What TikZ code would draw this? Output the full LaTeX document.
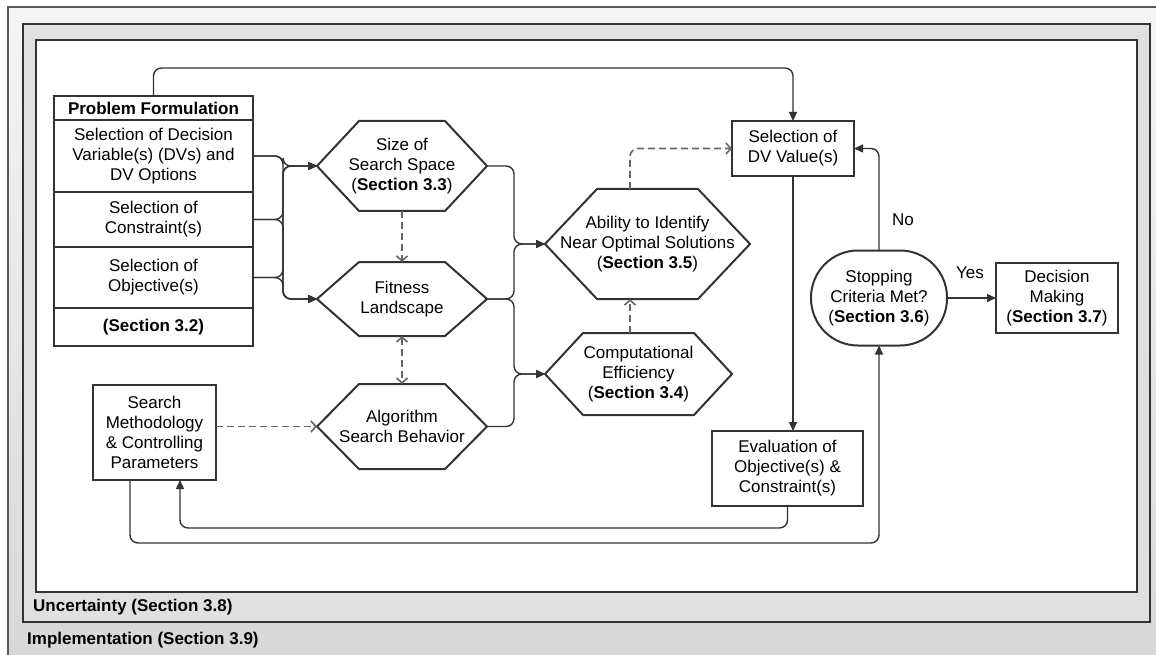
\documentclass[tikz,border=0pt]{standalone}
\usepackage{fontspec}
\setmainfont{Liberation Sans}
\usetikzlibrary{positioning, arrows.meta, calc}
\tikzset{
  box/.style = {rectangle, draw=black!80, line width=2pt, fill=white, align=center, outer sep=0pt, inner sep=2pt},
  cell/.style = {box, minimum width=199pt},
  hexa/.style = {rectangle, align=center, outer sep=0pt, inner sep=0pt},
  hexline/.style = {draw=black!80, line width=2pt, line join=miter},
  link/.style = {draw=black!80, line width=1.4pt, rounded corners=8pt, -{Triangle[length=9pt,width=8pt]}},
  dashlink/.style = {draw=black!60, line width=1.6pt, dash pattern=on 7pt off 4pt, rounded corners=8pt, -{Straight Barb[length=5pt,width=11pt]}},
  tag/.style = {font=\fontsize{17}{20}\selectfont\bfseries, anchor=west, inner sep=0pt},
}
\newcommand{\drawhex}[2]{%
  \draw[hexline] (#1.west) -- ([xshift=#2]#1.north west) -- ([xshift=-#2]#1.north east)
    -- (#1.east) -- ([xshift=-#2]#1.south east) -- ([xshift=#2]#1.south west) -- cycle;}

\begin{document}
\begin{tikzpicture}[x=1pt, y=-1pt, every node/.style={font=\fontsize{17}{20}\selectfont}]
    \useasboundingbox (0,0) rectangle (1156,655);

    % frames
    \draw[draw=black!65, line width=1.2pt, top color=black!4, bottom color=black!16] (8,7) rectangle (1180,690);
    \draw[draw=black!80, line width=2.5pt, fill=black!12] (23,24) rectangle (1150,622);
    \draw[draw=black!80, line width=2.5pt, fill=white] (36,40) rectangle (1137,592);
    \node[tag] (uncert) at (33,607) {Uncertainty (Section 3.8)};
    \node[tag] (implem) at (27,640) {Implementation (Section 3.9)};

    % problem formulation
    \node[cell, minimum height=24pt] (pfhead) at (153.5,108) {\textbf{Problem Formulation}};
    \node[cell, minimum height=72pt, below=0pt of pfhead] (pfdv) {Selection of Decision\\Variable(s) (DVs) and\\DV Options};
    \node[cell, minimum height=55pt, below=0pt of pfdv] (pfcon) {Selection of\\Constraint(s)};
    \node[cell, minimum height=61pt, below=0pt of pfcon] (pfobj) {Selection of\\Objective(s)};
    \node[cell, minimum height=38pt, below=0pt of pfobj] (pfsec) {\textbf{(Section 3.2)}};

    \node[box, minimum width=123pt, minimum height=95pt] (search) at (154.5,432.5) {Search\\Methodology\\\& Controlling\\Parameters};

    % hexagons
    \node[hexa, minimum width=170pt, minimum height=90pt] (size) at (402,166) {Size of\\Search Space\\(\textbf{Section 3.3})};
    \drawhex{size}{42pt}
    \node[hexa, minimum width=170pt, minimum height=74pt] (fit) at (402,299) {Fitness\\Landscape};
    \drawhex{fit}{42pt}
    \node[hexa, minimum width=170pt, minimum height=85pt] (algo) at (402,426.5) {Algorithm\\Search Behavior};
    \drawhex{algo}{42pt}
    \node[hexa, minimum width=205pt, minimum height=110pt] (ability) at (647.5,244) {Ability to Identify\\Near Optimal Solutions\\(\textbf{Section 3.5})};
    \drawhex{ability}{52pt}
    \node[hexa, minimum width=187pt, minimum height=82pt] (comp) at (638.5,374) {Computational\\Efficiency\\(\textbf{Section 3.4})};
    \drawhex{comp}{38pt}

    % right part
    \node[box, minimum width=122pt, minimum height=55pt] (seldv) at (793,148.5) {Selection of\\DV Value(s)};
    \node[box, minimum width=151pt, minimum height=75pt] (eval) at (787.5,468.5) {Evaluation of\\Objective(s) \&\\Constraint(s)};
    \node[box, rounded corners=47pt, minimum width=136pt, minimum height=95pt] (stop) at (879,298) {Stopping\\Criteria Met?\\(\textbf{Section 3.6})};
    \node[box, minimum width=122pt, minimum height=70pt] (decide) at (1057,298) {Decision\\Making\\(\textbf{Section 3.7})};
    \node (no) at (903,220) {No};
    \node (yes) at (970,273) {Yes};

    % connectors
    \draw[link] (pfdv.east) -- ++(30,0) |- (size.west);
    \draw[link] (pfdv.east) -- ++(30,0) |- (fit.west);
    \draw[link] (pfcon.east) -- ++(30,0) |- (size.west);
    \draw[link] (pfcon.east) -- ++(30,0) |- (fit.west);
    \draw[link] (pfobj.east) -- ++(30,0) |- (size.west);
    \draw[link] (pfobj.east) -- ++(30,0) |- (fit.west);

    \draw[link] (size.east) -- ++(27,0) |- (ability.west);
    \draw[link] (fit.east) -- ++(27,0) |- (ability.west);
    \draw[link] (fit.east) -- ++(27,0) |- (comp.west);
    \draw[link] (algo.east) -- ++(27,0) |- (comp.west);

    \draw[dashlink] (size.south) -- (fit.north);
    \draw[dashlink, {Straight Barb[length=5pt,width=11pt]}-{Straight Barb[length=5pt,width=11pt]}] (fit.south) -- (algo.north);
    \draw[dashlink] (search.east |- algo.west) -- (algo.west);
    \draw[dashlink] ([xshift=-8.5pt]comp.north) -- ([xshift=-8.5pt]comp.north |- ability.south);
    \draw[dashlink] ([xshift=-17.5pt]ability.north) |- (seldv.west);

    \draw[link] (pfhead.north) -- ++(0,-28) -| (seldv.north);
    \draw[link] (seldv.south) -- (seldv.south |- eval.north);
    \draw[link] (eval.south) -- ++(0,22) -| ([xshift=25.5pt]search.south);
    \draw[link] ([xshift=-24.5pt]search.south) -- ++(0,63) -| (stop.south);
    \draw[link] (stop.north) |- (seldv.east);
    \draw[link] (stop.east) -- (decide.west);
\end{tikzpicture}
\end{document}
